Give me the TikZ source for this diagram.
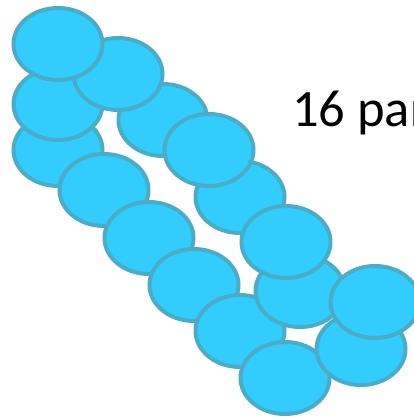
\documentclass[tikz,border=0pt]{standalone}
\usepackage{fontspec}
\setmainfont{Carlito}
\usetikzlibrary{shapes.geometric}
\definecolor{BeadCyan}{RGB}{51,204,255}
\definecolor{BeadEdge}{RGB}{75,172,198}
\tikzset{
  bead/ell/.style={
    ellipse,
    draw=BeadEdge,
    line width=3pt,
    fill=BeadCyan,
    minimum width=66.75pt,
    minimum height=54pt,
    inner sep=0pt
  },
  bead/label/.style={font=\fontsize{39.4}{47}\selectfont, text=black, inner sep=0pt, anchor=base west}
}
\begin{document}
\begin{tikzpicture}[x=0.75pt,y=-0.75pt]
  \useasboundingbox (0,0) rectangle (413,420);
  % lower chain
  \node[bead/ell] (l0) at (58,150) {};
  \node[bead/ell] (l1) at (104,190) {};
  \node[bead/ell] (l2) at (149,238) {};
  \node[bead/ell] (l3) at (194,285) {};
  \node[bead/ell] (l4) at (240,331) {};
  \node[bead/ell] (l5) at (285,378) {};
  % upper chain
  \node[bead/ell] (u1) at (58,104) {};
  \node[bead/ell] (u4) at (163,120) {};
  \node[bead/ell] (u3) at (118,74) {};
  \node[bead/ell] (u2) at (58,44) {};
  \node[bead/ell] (u6) at (240,197) {};
  \node[bead/ell] (u5) at (209,150) {};
  \node[bead/ell] (u8) at (300,291) {};
  \node[bead/ell] (u7) at (286,242) {};
  \node[bead/ell] (u9) at (361,349) {};
  \node[bead/ell] (u10) at (375,302) {};
  \node[bead/label] (count) at (292,127) {16 par};
\end{tikzpicture}
\end{document}
